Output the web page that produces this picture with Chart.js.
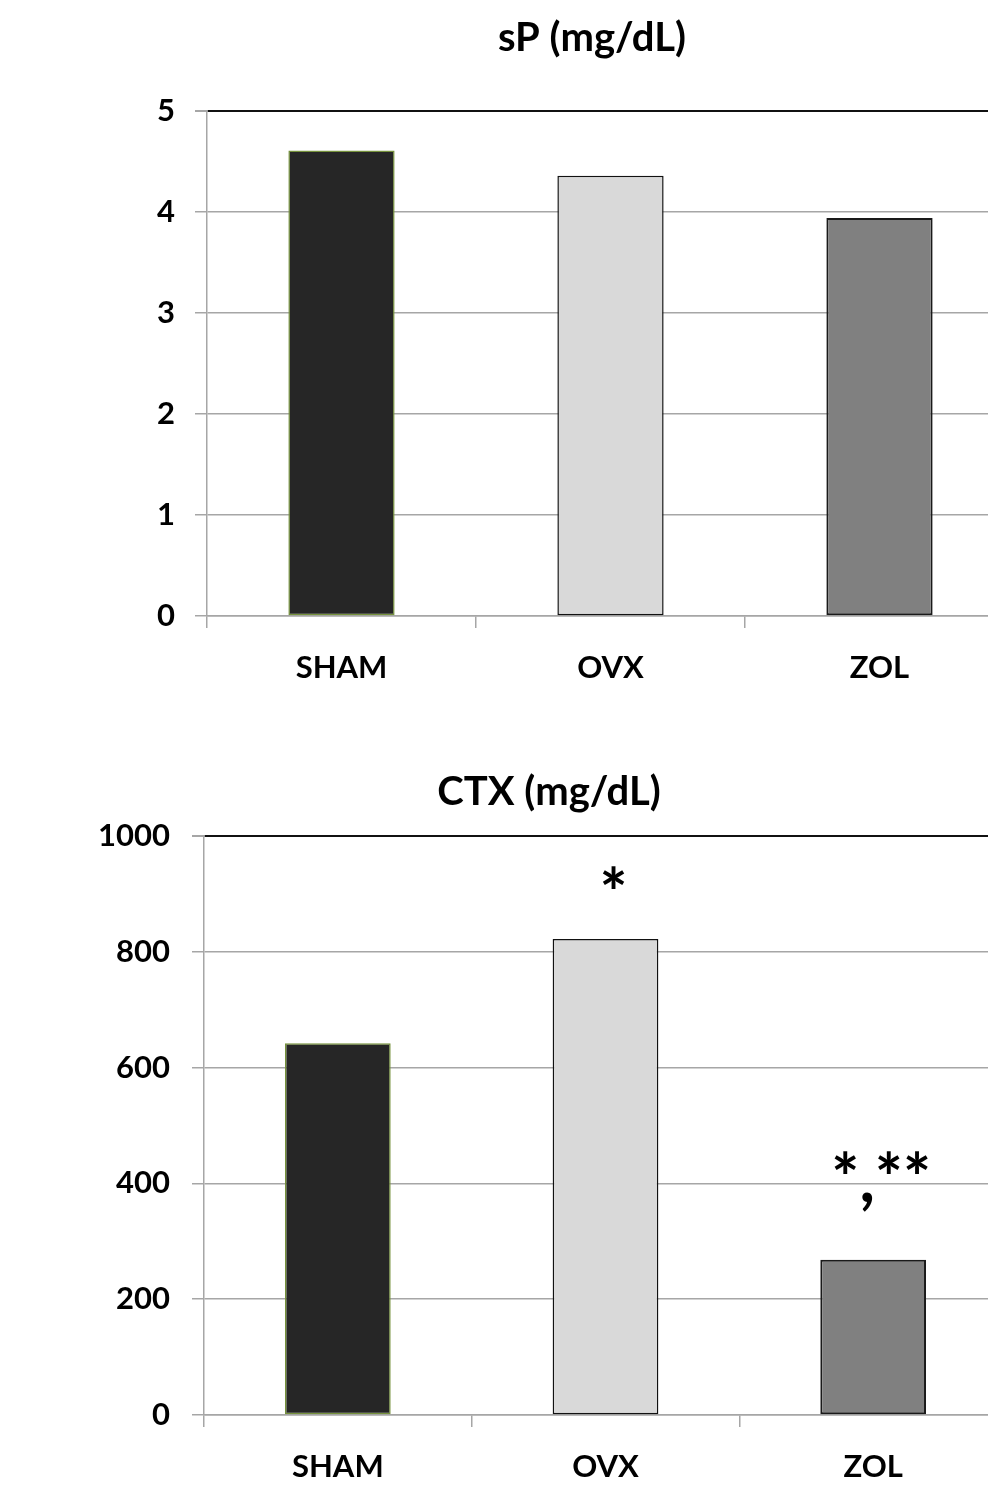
<!DOCTYPE html>
<html>
<head>
<meta charset="utf-8">
<script src="https://cdn.jsdelivr.net/npm/chart.js@4.4.0/dist/chart.umd.min.js"></script>
<style>
  html, body { margin: 0; padding: 0; background: #fff; overflow: hidden; width: 988px; height: 1497px; }
  .wrap { position: absolute; left: 0; }
  #topWrap { top: 0; width: 1020px; height: 720px; }
  #botWrap { top: 740px; width: 1020px; height: 757px; }
</style>
</head>
<body>
<div class="wrap" id="topWrap"><canvas id="spChart" width="1020" height="720"></canvas></div>
<div class="wrap" id="botWrap"><canvas id="ctxChart" width="1020" height="757"></canvas></div>
<script>
/* group data */
const GROUPS = ['SHAM', 'OVX', 'ZOL'];
const SP_VALUES = [4.61, 4.36, 3.94];
const SP_MAX = 5;
const SP_STEP = 1;
const CTX_VALUES = [642, 822, 268];
const CTX_MAX = 1000;
const CTX_STEP = 200;
const CTX_MARKS = ['', '*', '*,**'];
const CTX_MARK_AT = [null, 897, 405];

const FILLS = ['#262626', '#d9d9d9', '#808080'];
const BORDERS = ['#76923c', '#111111', '#1a1a1a'];
const BORDER_W = [1.5, 1.5, 2];
const FONT = 'Lato, "Open Sans", sans-serif';
const GRID = '#a6a6a6';

/* heading drawn at a fixed spot, like the Excel chart title */
const headingPlugin = {
  id: 'heading',
  afterDraw(chart, args, opts) {
    const c = chart.ctx;
    c.save();
    c.font = 'bold ' + opts.size + 'px ' + FONT;
    c.fillStyle = '#000';
    c.textAlign = 'center';
    c.textBaseline = 'middle';
    c.fillText(opts.text, opts.x, opts.y);
    c.restore();
  }
};

/* significance marks over the bars */
const marksPlugin = {
  id: 'marks',
  afterDatasetsDraw(chart, args, opts) {
    if (!opts.labels) return;
    const c = chart.ctx;
    const xs = chart.scales.x, ys = chart.scales.y;
    c.save();
    c.font = 'bold ' + opts.size + 'px ' + FONT;
    c.fillStyle = '#000';
    c.textAlign = 'center';
    c.textBaseline = 'middle';
    opts.labels.forEach((t, i) => {
      if (!t) return;
      c.fillText(t, xs.getPixelForValue(i) + 8, ys.getPixelForValue(opts.at[i]));
    });
    c.restore();
  }
};

function buildBarChart(id, cfg) {
  const canvas = document.getElementById(id);
  return new Chart(canvas, {
    type: 'bar',
    data: {
      labels: GROUPS,
      datasets: [{
        data: cfg.values,
        backgroundColor: FILLS,
        borderColor: BORDERS,
        borderWidth: BORDER_W,
        borderSkipped: false,
        categoryPercentage: 1,
        barPercentage: 0.395
      }]
    },
    plugins: [headingPlugin, marksPlugin],
    options: {
      responsive: false,
      animation: false,
      layout: { padding: { top: cfg.top, right: cfg.right, bottom: 0, left: 0 } },
      plugins: {
        legend: { display: false },
        tooltip: { enabled: false },
        heading: { text: cfg.title, x: cfg.titleX, y: cfg.titleY, size: 40 },
        marks: { labels: cfg.marks, at: cfg.marksAt, size: 66 }
      },
      scales: {
        x: {
          offset: true,
          grid: { offset: true, drawOnChartArea: false, drawTicks: true, tickLength: 12, color: GRID, lineWidth: 1.5 },
          border: { display: true, color: GRID, width: 1.5 },
          ticks: { color: '#000', padding: 21, font: { family: FONT, size: 31, weight: 'bold' } },
          afterFit: s => { s.height = cfg.xHeight; }
        },
        y: {
          min: 0, max: cfg.max,
          grid: {
            color: ctx => (ctx.tick && ctx.tick.value === cfg.max) ? '#111' : GRID,
            lineWidth: ctx => (ctx.tick && ctx.tick.value === cfg.max) ? 2 : 1.5,
            tickColor: GRID, tickLength: 12, drawTicks: true
          },
          border: { display: true, color: GRID, width: 1.5 },
          ticks: {
            stepSize: cfg.step, color: '#000', padding: cfg.tickPad,
            font: { family: FONT, size: 31, weight: 'bold' },
            callback: v => String(v)
          },
          afterFit: s => { s.width = cfg.yWidth; }
        }
      }
    }
  });
}

buildBarChart('spChart', {
  values: SP_VALUES, max: SP_MAX, step: SP_STEP,
  title: 'sP (mg/dL)', titleX: 592, titleY: 38,
  top: 111, right: 6, xHeight: 104, yWidth: 207, tickPad: 20,
  marks: null, marksAt: null
});

buildBarChart('ctxChart', {
  values: CTX_VALUES, max: CTX_MAX, step: CTX_STEP,
  title: 'CTX (mg/dL)', titleX: 549, titleY: 52,
  top: 96, right: 13, xHeight: 82, yWidth: 204, tickPad: 22,
  marks: CTX_MARKS, marksAt: CTX_MARK_AT
});
</script>
</body>
</html>
